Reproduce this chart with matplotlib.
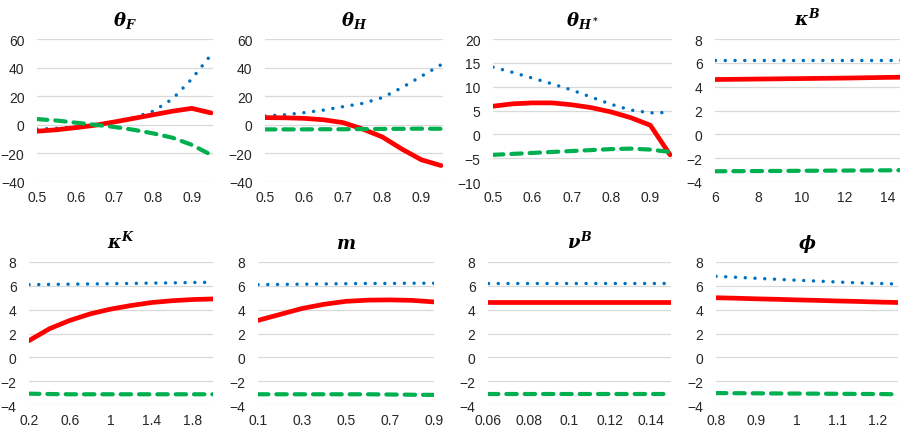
import matplotlib
matplotlib.use("Agg")
import matplotlib.pyplot as plt

plt.rcParams['font.family'] = ['Liberation Sans', 'DejaVu Sans']
plt.rcParams['mathtext.fontset'] = 'custom'
plt.rcParams['mathtext.rm'] = 'DejaVu Serif:bold'
plt.rcParams['mathtext.it'] = 'DejaVu Serif:bold:italic'
plt.rcParams['mathtext.bf'] = 'DejaVu Serif:bold'

# --- data ---
theta_x = [0.5, 0.55, 0.6, 0.65, 0.7, 0.75, 0.8, 0.85, 0.9, 0.95]

thF_blue = [-3, -2.5, -1.5, 0, 2, 5, 9.5, 18, 32, 49]
thF_red = [-4.5, -3.5, -2, -0.3, 2, 4.5, 7, 9.5, 11.5, 8.3]
thF_green = [4, 3, 1.5, 0, -1.5, -3.5, -6, -9, -14, -21]

thH_blue = [6.2, 7, 8.5, 10.3, 12.7, 15, 19, 26, 34, 42]
thH_red = [5, 4.9, 4.5, 3.5, 1.5, -3, -8.5, -17, -24.5, -28.5]
thH_green = [-3.2, -3.2, -3.2, -3.1, -3.1, -3, -2.9, -2.8, -2.7, -2.8]

thHs_blue = [14.1, 13.0, 11.8, 10.6, 9.3, 7.8, 6.3, 5.1, 4.5, 4.6]
thHs_red = [5.9, 6.4, 6.6, 6.6, 6.2, 5.6, 4.7, 3.5, 1.9, -4.3]
thHs_green = [-4.3, -4.1, -3.9, -3.7, -3.5, -3.3, -3.1, -3.0, -3.2, -3.7]

kB_x = [6, 7, 8, 9, 10, 11, 12, 13, 14, 15]
kB_blue = [6.25, 6.25, 6.25, 6.25, 6.25, 6.25, 6.25, 6.25, 6.25, 6.25]
kB_red = [4.6, 4.62, 4.64, 4.66, 4.68, 4.7, 4.72, 4.75, 4.78, 4.8]
kB_green = [-3.1, -3.09, -3.08, -3.07, -3.06, -3.05, -3.04, -3.03, -3.02, -3.0]

kK_x = [0.2, 0.4, 0.6, 0.8, 1.0, 1.2, 1.4, 1.6, 1.8, 2.0]
kK_blue = [6.1, 6.12, 6.14, 6.16, 6.18, 6.2, 6.23, 6.25, 6.28, 6.3]
kK_red = [1.4, 2.4, 3.1, 3.65, 4.05, 4.35, 4.6, 4.75, 4.85, 4.9]
kK_green = [-3.05, -3.08, -3.1, -3.1, -3.1, -3.1, -3.1, -3.1, -3.1, -3.1]

m_x = [0.1, 0.2, 0.3, 0.4, 0.5, 0.6, 0.7, 0.8, 0.9]
m_blue = [6.1, 6.12, 6.14, 6.16, 6.18, 6.2, 6.2, 6.22, 6.22]
m_red = [3.1, 3.6, 4.1, 4.45, 4.7, 4.8, 4.82, 4.78, 4.65]
m_green = [-3.1, -3.1, -3.1, -3.1, -3.1, -3.1, -3.12, -3.14, -3.15]

nB_x = [0.06, 0.07, 0.08, 0.09, 0.10, 0.11, 0.12, 0.13, 0.14, 0.15]
nB_blue = [6.2, 6.2, 6.2, 6.2, 6.2, 6.2, 6.2, 6.2, 6.2, 6.2]
nB_red = [4.65, 4.65, 4.65, 4.65, 4.65, 4.65, 4.65, 4.65, 4.65, 4.65]
nB_green = [-3.1, -3.1, -3.1, -3.1, -3.1, -3.1, -3.1, -3.1, -3.1, -3.1]

phi_x = [0.8, 0.85, 0.9, 0.95, 1.0, 1.05, 1.1, 1.15, 1.2, 1.25]
phi_blue = [6.8, 6.72, 6.63, 6.55, 6.47, 6.4, 6.32, 6.25, 6.2, 6.15]
phi_red = [5.0, 4.96, 4.91, 4.87, 4.82, 4.78, 4.73, 4.69, 4.64, 4.6]
phi_green = [-3.0, -3.01, -3.02, -3.03, -3.04, -3.05, -3.06, -3.07, -3.08, -3.1]

titles = [r'$\theta_F$', r'$\theta_H$', r'$\theta_{H^*}$', r'$\kappa^B$',
          r'$\kappa^K$', r'$m$', r'$\nu^B$', r'$\phi$']

panels = [
    (theta_x, thF_blue, thF_red, thF_green, (0.5, 0.955), [0.5, 0.6, 0.7, 0.8, 0.9], ['0.5', '0.6', '0.7', '0.8', '0.9'], (-40, 60), [-40, -20, 0, 20, 40, 60]),
    (theta_x, thH_blue, thH_red, thH_green, (0.5, 0.955), [0.5, 0.6, 0.7, 0.8, 0.9], ['0.5', '0.6', '0.7', '0.8', '0.9'], (-40, 60), [-40, -20, 0, 20, 40, 60]),
    (theta_x, thHs_blue, thHs_red, thHs_green, (0.5, 0.955), [0.5, 0.6, 0.7, 0.8, 0.9], ['0.5', '0.6', '0.7', '0.8', '0.9'], (-10, 20), [-10, -5, 0, 5, 10, 15, 20]),
    (kB_x, kB_blue, kB_red, kB_green, (6, 14.55), [6, 8, 10, 12, 14], ['6', '8', '10', '12', '14'], (-4, 8), [-4, -2, 0, 2, 4, 6, 8]),
    (kK_x, kK_blue, kK_red, kK_green, (0.2, 2.0), [0.2, 0.6, 1.0, 1.4, 1.8], ['0.2', '0.6', '1', '1.4', '1.8'], (-4, 8), [-4, -2, 0, 2, 4, 6, 8]),
    (m_x, m_blue, m_red, m_green, (0.1, 0.9), [0.1, 0.3, 0.5, 0.7, 0.9], ['0.1', '0.3', '0.5', '0.7', '0.9'], (-4, 8), [-4, -2, 0, 2, 4, 6, 8]),
    (nB_x, nB_blue, nB_red, nB_green, (0.06, 0.15), [0.06, 0.08, 0.10, 0.12, 0.14], ['0.06', '0.08', '0.1', '0.12', '0.14'], (-4, 8), [-4, -2, 0, 2, 4, 6, 8]),
    (phi_x, phi_blue, phi_red, phi_green, (0.8, 1.25), [0.8, 0.9, 1.0, 1.1, 1.2], ['0.8', '0.9', '1', '1.1', '1.2'], (-4, 8), [-4, -2, 0, 2, 4, 6, 8]),
]

# plot areas in pixels (left, right, top, bottom)
boxes = [(37, 213, 40, 183), (265, 443, 40, 183), (493, 672, 40, 183), (715, 900, 40, 183),
         (29, 213, 263, 406), (258, 434, 263, 406), (488, 671, 263, 406), (716, 898, 263, 406)]

W, H = 900, 431
fig = plt.figure(figsize=(9, 4.31), dpi=100)

for i, (x, b, r, g, xl, xt, xtl, yl, yt) in enumerate(panels):
    l, rr, t, bt = boxes[i]
    ax = fig.add_axes([l / W, 1 - bt / H, (rr - l) / W, (bt - t) / H])
    ax.plot(x, b, color='#0070C0', lw=2.5, linestyle=(0, (0.01, 2.8)),
            dash_capstyle='round', zorder=3)
    ax.plot(x, r, color='#FF0000', lw=3.4, solid_capstyle='round',
            solid_joinstyle='round', zorder=3)
    ax.plot(x, g, color='#00B050', lw=3.0, linestyle=(0, (2.5, 1.9)),
            dash_capstyle='round', zorder=3)
    ax.set_xlim(*xl)
    ax.set_ylim(*yl)
    ax.set_xticks(xt)
    ax.set_xticklabels(xtl)
    ax.set_yticks(yt)
    ax.yaxis.grid(True, color='#D9D9D9', lw=0.9)
    ax.set_axisbelow(True)
    for s in ax.spines.values():
        s.set_visible(False)
    ax.tick_params(length=0, labelsize=10, colors='#262626')
    ax.tick_params(axis='y', pad=9)
    ax.tick_params(axis='x', pad=6)
    ax.set_title(titles[i], fontsize=13, pad=10, color='black')

fig.savefig('out.png', dpi=100)
